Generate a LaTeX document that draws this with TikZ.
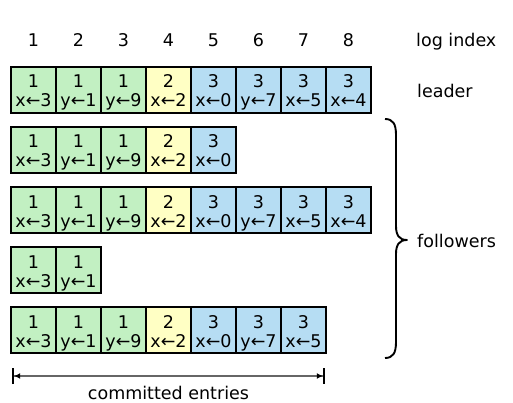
\documentclass[tikz,border=0pt]{standalone}
\usepackage{fontspec}
\setmainfont{DejaVu Sans}
\usetikzlibrary{arrows.meta}
\definecolor{cg}{RGB}{194,240,194}
\definecolor{cy}{RGB}{255,255,196}
\definecolor{cb}{RGB}{182,221,243}
\begin{document}
\begin{tikzpicture}[x=1pt,y=-1pt,
  cell/.style={draw=black, line width=1.9pt, minimum width=45pt, minimum height=46pt,
    inner sep=0pt, align=center, font=\fontsize{17.5}{19}\selectfont,
    text height=34pt, text depth=0pt},
  lbl/.style={inner sep=0pt, font=\fontsize{17.5}{21}\selectfont},
  bracepath/.style={line width=1.9pt, line join=round},
  spanline/.style={draw=black!60, line width=1.2pt,
    {Bar[black,width=16pt,line width=2.2pt]Latex[black,length=6pt,width=6pt]}-{Latex[black,length=6pt,width=6pt]Bar[black,width=16pt,line width=2.2pt]}}]
\useasboundingbox (0,0) rectangle (513,403);
% log index
\foreach \i in {1,...,8} {
  \node[lbl, anchor=base] (idx\i) at ({11+45*(\i-0.5)}, 47) {\i};
}
\node[lbl, anchor=base west] (logindex) at (416,47) {log index};
% leader
\foreach \t/\c/\col [count=\i] in {1/x←3/cg,1/y←1/cg,1/y←9/cg,2/x←2/cy,3/x←0/cb,3/y←7/cb,3/x←5/cb,3/x←4/cb} {
  \node[cell, fill=\col] (a\i) at ({11+45*(\i-0.5)}, 90) {\t\\\c};
}
\node[lbl, anchor=base west] (leader) at (417,98) {leader};
% follower 1
\foreach \t/\c/\col [count=\i] in {1/x←3/cg,1/y←1/cg,1/y←9/cg,2/x←2/cy,3/x←0/cb} {
  \node[cell, fill=\col] (b\i) at ({11+45*(\i-0.5)}, 150) {\t\\\c};
}
% follower 2
\foreach \t/\c/\col [count=\i] in {1/x←3/cg,1/y←1/cg,1/y←9/cg,2/x←2/cy,3/x←0/cb,3/y←7/cb,3/x←5/cb,3/x←4/cb} {
  \node[cell, fill=\col] (c\i) at ({11+45*(\i-0.5)}, 210) {\t\\\c};
}
% follower 3
\foreach \t/\c/\col [count=\i] in {1/x←3/cg,1/y←1/cg} {
  \node[cell, fill=\col] (d\i) at ({11+45*(\i-0.5)}, 270) {\t\\\c};
}
% follower 4
\foreach \t/\c/\col [count=\i] in {1/x←3/cg,1/y←1/cg,1/y←9/cg,2/x←2/cy,3/x←0/cb,3/y←7/cb,3/x←5/cb} {
  \node[cell, fill=\col] (e\i) at ({11+45*(\i-0.5)}, 330) {\t\\\c};
}
% brace
\draw[bracepath] (385,119) .. controls (393,119) and (396,124) .. (396,135)
  -- (396,226) .. controls (396,235) and (399,240) .. (407,240)
  .. controls (399,240) and (396,245) .. (396,254)
  -- (396,342) .. controls (396,353) and (393,358) .. (385,358);
\node[lbl, anchor=base west] (followers) at (417,247) {followers};
% committed
\coordinate (cl) at (12,376);
\coordinate (cr) at (325,376);
\draw[spanline] (cl) -- (cr);
\node[lbl, anchor=base] (committed) at (168.5,399) {committed entries};
\end{tikzpicture}
\end{document}
